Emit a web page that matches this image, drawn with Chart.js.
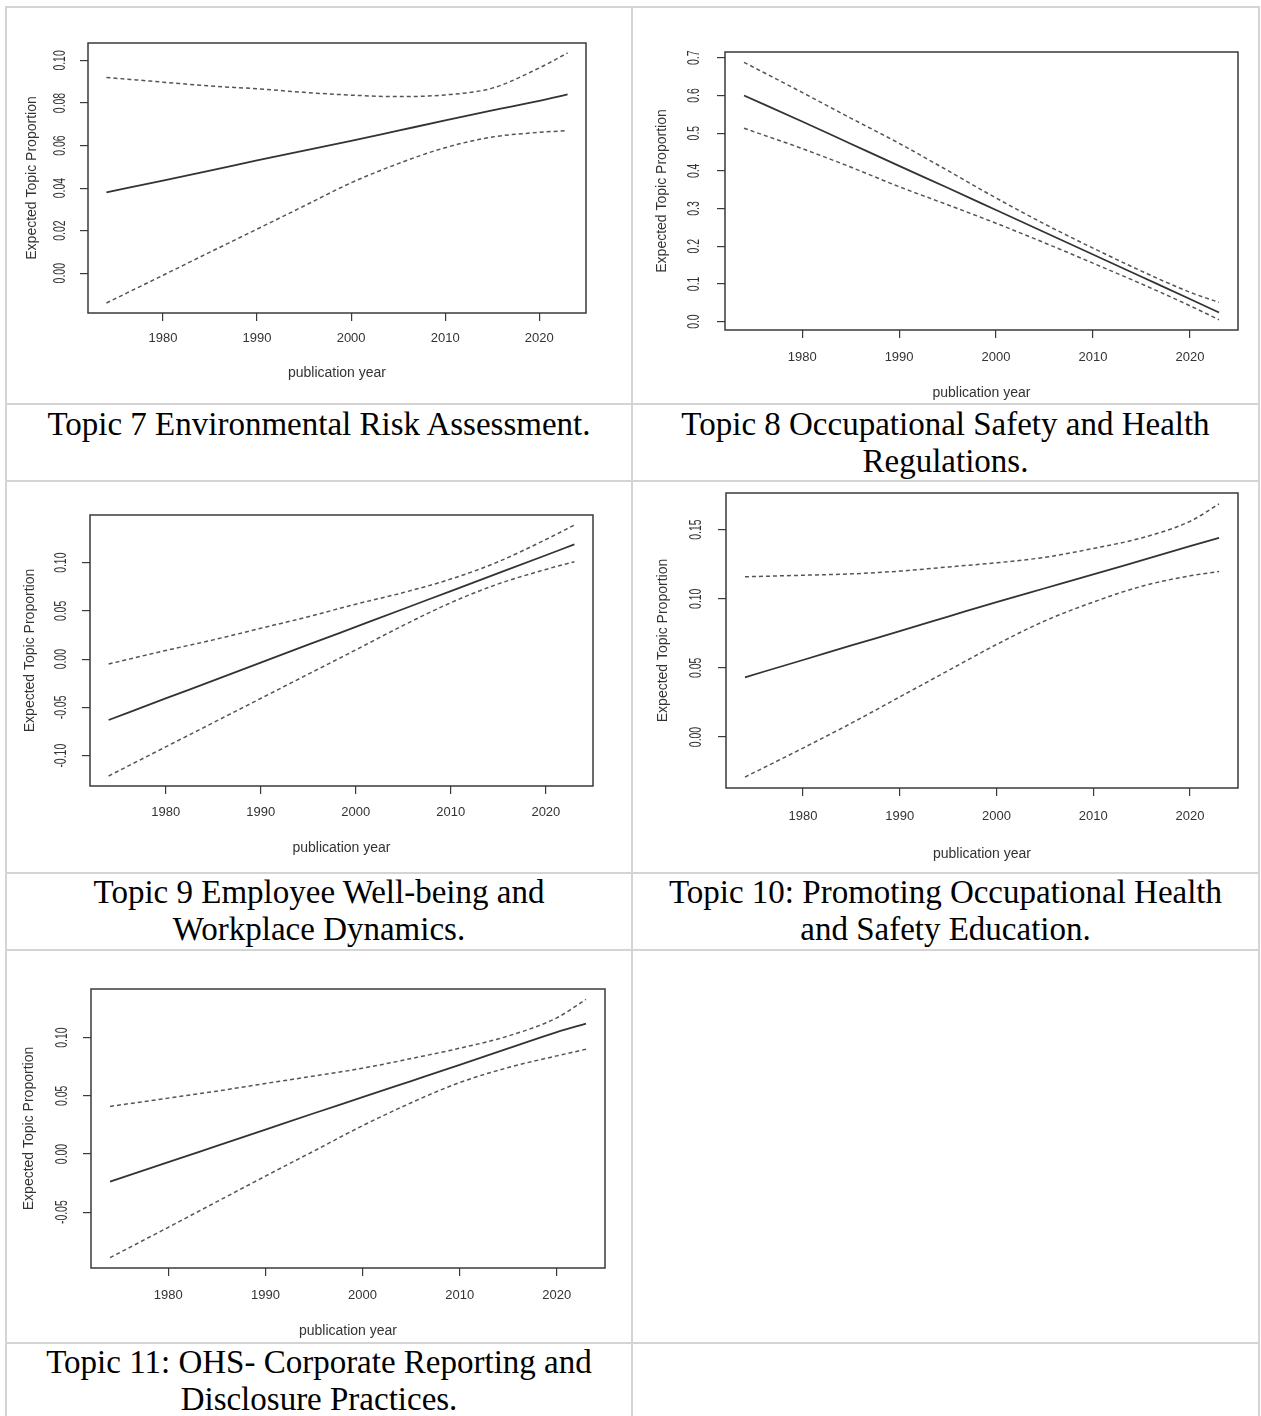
<!DOCTYPE html>
<html>
<head>
<meta charset="utf-8">
<script src="https://cdn.jsdelivr.net/npm/chart.js@4/dist/chart.umd.min.js"></script>
<style>
body { margin: 0; background: #fff; }
#page { position: relative; width: 1261px; height: 1416px; overflow: hidden; background: #fff; }
.hl { position: absolute; height: 2px; background: #d4d4d4; }
.vl { position: absolute; width: 2px; background: #d4d4d4; }
.cap { position: absolute; font-family: "Liberation Serif", "Times New Roman", serif; font-size: 33px; line-height: 37px; text-align: center; color: #000; }
canvas { position: absolute; }
</style>
</head>
<body>
<div id="page"></div>
<script>
const years = [1974, 1980, 1985, 1990, 1995, 2000, 2005, 2010, 2015, 2020, 2023];
const xTicks = [1980, 1990, 2000, 2010, 2020];

// Topic 7
const t7Est   = [0.0380, 0.0435, 0.0482, 0.0530, 0.0576, 0.0622, 0.0670, 0.0718, 0.0765, 0.0810, 0.0840];
const t7Upper = [0.0920, 0.0898, 0.0880, 0.0867, 0.0850, 0.0837, 0.0830, 0.0838, 0.0870, 0.0965, 0.1035];
const t7Lower = [-0.0140, -0.0010, 0.0099, 0.0207, 0.0316, 0.0425, 0.0515, 0.0590, 0.0640, 0.0662, 0.0670];
const t7YTicks = ['0.00', '0.02', '0.04', '0.06', '0.08', '0.10'];

// Topic 8
const t8Est   = [0.600, 0.531, 0.472, 0.413, 0.355, 0.296, 0.237, 0.178, 0.119, 0.060, 0.024];
const t8Upper = [0.688, 0.608, 0.540, 0.473, 0.401, 0.328, 0.259, 0.195, 0.134, 0.078, 0.051];
const t8Lower = [0.513, 0.459, 0.410, 0.358, 0.310, 0.261, 0.209, 0.155, 0.100, 0.042, 0.005];
const t8YTicks = ['0.0', '0.1', '0.2', '0.3', '0.4', '0.5', '0.6', '0.7'];

// Topic 9
const t9Est   = [-0.063, -0.0407, -0.0222, -0.0036, 0.015, 0.0335, 0.052, 0.0706, 0.0891, 0.1077, 0.119];
const t9Upper = [-0.005, 0.009, 0.020, 0.032, 0.044, 0.057, 0.069, 0.083, 0.101, 0.124, 0.139];
const t9Lower = [-0.121, -0.0909, -0.0658, -0.0407, -0.0155, 0.0096, 0.035, 0.0585, 0.078, 0.093, 0.101];
const t9YTicks = ['-0.10', '-0.05', '0.00', '0.05', '0.10'];

// Topic 10
const t10Est   = [0.0432, 0.0557, 0.0662, 0.0766, 0.0871, 0.0976, 0.1076, 0.1176, 0.1278, 0.1380, 0.1441];
const t10Upper = [0.1159, 0.117, 0.118, 0.120, 0.123, 0.126, 0.130, 0.1364, 0.144, 0.156, 0.1686];
const t10Lower = [-0.029, -0.008, 0.010, 0.029, 0.048, 0.0669, 0.084, 0.0976, 0.109, 0.1166, 0.1197];
const t10YTicks = ['0.00', '0.05', '0.10', '0.15'];

// Topic 11
const t11Est   = [-0.0237, -0.0070, 0.0070, 0.0210, 0.0350, 0.0488, 0.0627, 0.0766, 0.0907, 0.1048, 0.1120];
const t11Upper = [0.0409, 0.048, 0.054, 0.0606, 0.067, 0.0737, 0.082, 0.0909, 0.1014, 0.117, 0.1329];
const t11Lower = [-0.0891, -0.063, -0.041, -0.019, 0.0026, 0.0243, 0.044, 0.0614, 0.0743, 0.0843, 0.090];
const t11YTicks = ['-0.05', '0.00', '0.05', '0.10'];

const captions = [
  'Topic 7 Environmental Risk Assessment.',
  'Topic 8 Occupational Safety and Health Regulations.',
  'Topic 9 Employee Well-being and Workplace Dynamics.',
  'Topic 10: Promoting Occupational Health and Safety Education.',
  'Topic 11: OHS- Corporate Reporting and Disclosure Practices.'
];

const page = document.getElementById('page');
const SANS = '"Liberation Sans", Arial, Helvetica, sans-serif';

// table rules
[5, 631, 1258].forEach(x => {
  const d = document.createElement('div');
  d.className = 'vl';
  d.style.left = x + 'px'; d.style.top = '6px'; d.style.height = '1410px';
  page.appendChild(d);
});
[6, 403, 480, 872, 949, 1342].forEach(y => {
  const d = document.createElement('div');
  d.className = 'hl';
  d.style.left = '5px'; d.style.top = y + 'px'; d.style.width = '1255px';
  page.appendChild(d);
});

// caption cells: left, top, width
const capPos = [[7, 406, 624], [633, 406, 625], [7, 874, 624], [633, 874, 625], [7, 1344, 624]];
captions.forEach((c, i) => {
  const d = document.createElement('div');
  d.className = 'cap';
  const p = capPos[i];
  d.style.left = p[0] + 'px'; d.style.top = p[1] + 'px'; d.style.width = p[2] + 'px';
  d.style.padding = '0 30px'; d.style.boxSizing = 'border-box';
  d.textContent = c;
  page.appendChild(d);
});

// R-style frame and rotated y tick labels
const rFrame = {
  id: 'rFrame',
  afterDraw(chart, args, opts) {
    const { ctx, chartArea: a } = chart;
    const ys = chart.scales.y;
    ctx.save();
    ctx.strokeStyle = '#3a3a3a';
    ctx.lineWidth = 1.5;
    ctx.strokeRect(a.left, a.top, a.right - a.left, a.bottom - a.top);
    ctx.fillStyle = '#333';
    ctx.font = '11px ' + SANS;
    ctx.textAlign = 'center';
    ctx.textBaseline = 'middle';
    ys.ticks.forEach((t, i) => {
      ctx.save();
      ctx.translate(a.left - opts.gap, ys.getPixelForValue(t.value));
      ctx.rotate(-Math.PI / 2);
      ctx.scale(0.95, 1.45);
      ctx.fillText(opts.labels[i], 0, 0);
      ctx.restore();
    });
    ctx.restore();
  }
};

function makeChart(cfg) {
  const [cl, ct, cw, ch] = cfg.canvas;
  const [bl, bt, br, bb] = cfg.box;
  const cv = document.createElement('canvas');
  cv.width = cw; cv.height = ch;
  cv.style.left = cl + 'px'; cv.style.top = ct + 'px';
  cv.style.width = cw + 'px'; cv.style.height = ch + 'px';
  page.appendChild(cv);

  const all = cfg.est.concat(cfg.upper, cfg.lower);
  const lo = Math.min(...all), hi = Math.max(...all), r = hi - lo;
  const xr = years[years.length - 1] - years[0];
  const W = (bl - cfg.yTitleX) + 14 * 1.2 / 2;
  const H = (cfg.xTitleY - bb) + 14 * 1.2 / 2;
  const tickLen = 8;
  const pts = arr => years.map((x, i) => ({ x: x, y: arr[i] }));
  const yVals = cfg.yTicks.map(parseFloat);

  const line = (arr, dashed) => ({
    data: pts(arr),
    borderColor: dashed ? '#555' : '#333',
    borderWidth: dashed ? 1.5 : 1.8,
    borderDash: dashed ? [4, 3] : [],
    pointRadius: 0,
    cubicInterpolationMode: 'monotone',
    fill: false
  });

  return new Chart(cv, {
    type: 'line',
    data: { datasets: [line(cfg.est, false), line(cfg.upper, true), line(cfg.lower, true)] },
    options: {
      responsive: false,
      animation: false,
      devicePixelRatio: 1,
      events: [],
      layout: {
        padding: { left: bl - cl - W, top: bt - ct, right: cl + cw - br, bottom: ct + ch - bb - H }
      },
      plugins: {
        legend: { display: false },
        tooltip: { enabled: false },
        rFrame: { gap: bl - cfg.yLabX, labels: cfg.yTicks }
      },
      scales: {
        x: {
          type: 'linear',
          min: years[0] - 0.04 * xr,
          max: years[years.length - 1] + 0.04 * xr,
          afterBuildTicks: s => { s.ticks = xTicks.map(v => ({ value: v })); },
          afterFit: s => { s.height = H; },
          ticks: {
            autoSkip: false, maxRotation: 0,
            padding: (cfg.xLabY - bb) - tickLen - 13 * 1.2 / 2,
            color: '#333',
            font: { family: SANS, size: 13 },
            callback: v => String(v)
          },
          grid: { drawOnChartArea: false, drawTicks: true, tickLength: tickLen, color: '#3a3a3a', lineWidth: 1.2 },
          border: { display: false },
          title: { display: true, text: 'publication year', color: '#333', padding: 0, font: { family: SANS, size: 14 } }
        },
        y: {
          type: 'linear',
          min: lo - 0.04 * r,
          max: hi + 0.04 * r,
          afterBuildTicks: s => { s.ticks = yVals.map(v => ({ value: v })); },
          afterFit: s => { s.width = W; },
          ticks: { display: false },
          grid: { drawOnChartArea: false, drawTicks: true, tickLength: tickLen, color: '#3a3a3a', lineWidth: 1.2 },
          border: { display: false },
          title: { display: true, text: 'Expected Topic Proportion', color: '#333', padding: 0, font: { family: SANS, size: 14 } }
        }
      }
    },
    plugins: [rFrame]
  });
}

makeChart({ canvas: [7, 8, 624, 395], box: [88, 43, 586, 313], yTitleX: 32, yLabX: 61, xLabY: 338, xTitleY: 373,
  est: t7Est, upper: t7Upper, lower: t7Lower, yTicks: t7YTicks });
makeChart({ canvas: [633, 8, 625, 395], box: [725, 52, 1238, 330], yTitleX: 662, yLabX: 695, xLabY: 357, xTitleY: 393,
  est: t8Est, upper: t8Upper, lower: t8Lower, yTicks: t8YTicks });
makeChart({ canvas: [7, 482, 624, 390], box: [90, 515, 593, 786], yTitleX: 30, yLabX: 62, xLabY: 812, xTitleY: 848,
  est: t9Est, upper: t9Upper, lower: t9Lower, yTicks: t9YTicks });
makeChart({ canvas: [633, 482, 625, 390], box: [726, 493, 1238, 788], yTitleX: 663, yLabX: 697, xLabY: 816, xTitleY: 854,
  est: t10Est, upper: t10Upper, lower: t10Lower, yTicks: t10YTicks });
makeChart({ canvas: [7, 951, 624, 391], box: [91, 989, 605, 1268], yTitleX: 29, yLabX: 63, xLabY: 1295, xTitleY: 1331,
  est: t11Est, upper: t11Upper, lower: t11Lower, yTicks: t11YTicks });
</script>
</body>
</html>
